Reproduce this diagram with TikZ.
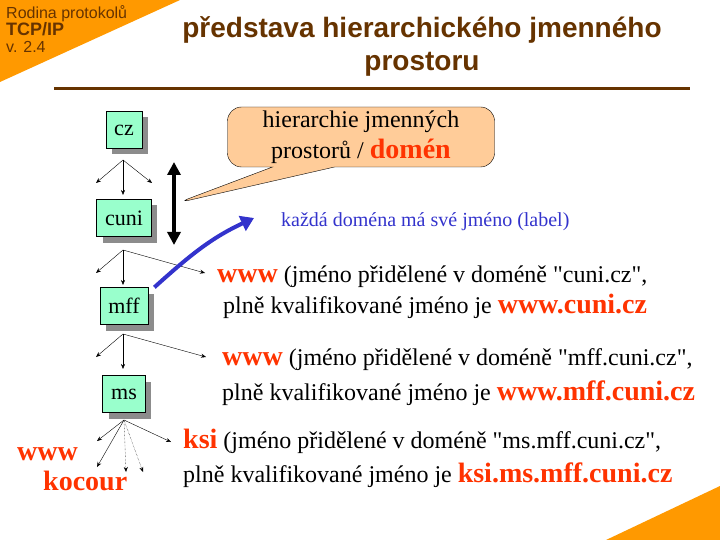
\documentclass[tikz,border=0pt]{standalone}
\usepackage{fontspec}
\setmainfont{Liberation Serif}[Ligatures=TeXOff]
\newfontfamily\arialfont{Liberation Sans}
\usetikzlibrary{arrows.meta,positioning,shapes.callouts,shadows}
\definecolor{tOrange}{RGB}{255,153,0}
\definecolor{tBrown}{RGB}{102,51,0}
\definecolor{tMint}{RGB}{153,255,204}
\definecolor{tPeach}{RGB}{255,204,153}
\definecolor{tRed}{RGB}{255,51,0}
\definecolor{tBlue}{RGB}{51,51,204}
\newcommand{\hl}[1]{{\color{tRed}\bfseries\fontsize{28}{31}\selectfont #1}}

\begin{document}
\begin{tikzpicture}[x=1pt,y=-1pt,
  dom/.style={draw,fill=tMint,inner xsep=8.5pt,minimum height=37pt,font=\fontsize{22}{26}\selectfont,
    drop shadow={shadow xshift=6pt,shadow yshift=-6pt,fill=gray!90,opacity=1}},
  txt/.style={anchor=base west,inner sep=0pt,font=\fontsize{24}{28}\selectfont},
  hdr/.style={anchor=base west,inner sep=0pt,text=tBrown},
  a/.style={-{Stealth[length=5pt,width=4pt]},thin},
  d/.style={a,densely dotted}]
  \useasboundingbox (0,0) rectangle (720,540);
  % corner triangles
  \fill[tOrange] (0,0) -- (180,0) -- (0,82) -- cycle;
  \fill[tOrange] (720,486) -- (720,540) -- (606,540) -- cycle;
  \node[hdr,font=\arialfont\fontsize{16}{18}\selectfont] (hdrA) at (6,19) {Rodina protokolů};
  \node[hdr,font=\arialfont\bfseries\fontsize{18}{20}\selectfont] (hdrB) at (6,36) {TCP/IP};
  \node[hdr,font=\arialfont\fontsize{16}{18}\selectfont] (hdrC) at (6,53) {v. 2.4};
  % title
  \node[align=center,text=tBrown,font=\arialfont\bfseries\fontsize{28}{33}\selectfont] (title) at (422,46)
    {představa hierarchického jmenného\\prostoru};
  \draw[tBrown,line width=3pt] (54,89) -- (690,89);

  % domain boxes
  \node[dom] (cz) at (124,130) {cz};
  \node[dom] (cuni) at (124,218) {cuni};
  \node[dom] (mff) at (124,306) {mff};
  \node[dom] (ms) at (124,394) {ms};

  % fans
  \coordinate (czfan) at (123,160);
  \coordinate (cunifan) at (123,250);
  \coordinate (mfffan) at (123,334);
  \coordinate (msfan) at (124,420);
  \foreach \f/\y in {czfan/183,cunifan/273,mfffan/357} {
    \draw[a] (\f) -- (96,\y);
    \draw[a] (\f) -- ++(0,35);
  }
  \draw[a] (czfan) -- (152,183);
  \draw[a] (cunifan) -- (205,273);
  \draw[a] (mfffan) -- (206,357);
  \draw[a] (msfan) -- (97,441);
  \draw[a] (msfan) -- (97,467);
  \draw[d] (msfan) -- (126,472);
  \draw[d] (msfan) -- (143,472);
  \draw[a] (msfan) -- (171,442);

  % double arrow
  \coordinate (hiTop) at (174,162);
  \coordinate (hiBot) at (174,245);
  \draw[line width=3.5pt,{Triangle[length=13pt,width=13pt]}-{Triangle[length=13pt,width=13pt]}] (hiTop) -- (hiBot);

  % callout
  \node[rectangle callout,draw,fill=tPeach,rounded corners=14pt,minimum width=267pt,minimum height=60pt,
    align=center,font=\fontsize{24}{31}\selectfont,callout absolute pointer={(177,203)},
    callout pointer width=62pt] (hier) at (361,137)
    {hierarchie jmenných\\prostorů / \hl{domén}};

  % label
  \node[anchor=base west,inner sep=0pt,text=tBlue,font=\fontsize{20}{24}\selectfont] (lbl) at (281,226)
    {každá doména má své jméno (label)};
  \draw[tBlue,line width=4pt,-{Triangle[length=13pt,width=16pt]}] ([xshift=6pt]mff.north east)
    to[out=42,in=205] (254,218);

  % text lines
  \node[txt] (lnA) at (217,282) {\hl{www} (jméno přidělené v doméně "cuni.cz",};
  \node[txt] (lnB) at (223,313) {plně kvalifikované jméno je \hl{www.cuni.cz}};
  \node[txt] (lnC) at (222,365) {\hl{www} (jméno přidělené v doméně "mff.cuni.cz",};
  \node[txt] (lnD) at (222,400) {plně kvalifikované jméno je \hl{www.mff.cuni.cz}};
  \node[txt] (lnE) at (183,448) {\hl{ksi} (jméno přidělené v doméně "ms.mff.cuni.cz",};
  \node[txt] (lnF) at (183,482) {plně kvalifikované jméno je \hl{ksi.ms.mff.cuni.cz}};
  \node[txt] (www) at (17,460) {\hl{www}};
  \node[txt] (kocour) at (43,490) {\hl{kocour}};
\end{tikzpicture}
\end{document}
